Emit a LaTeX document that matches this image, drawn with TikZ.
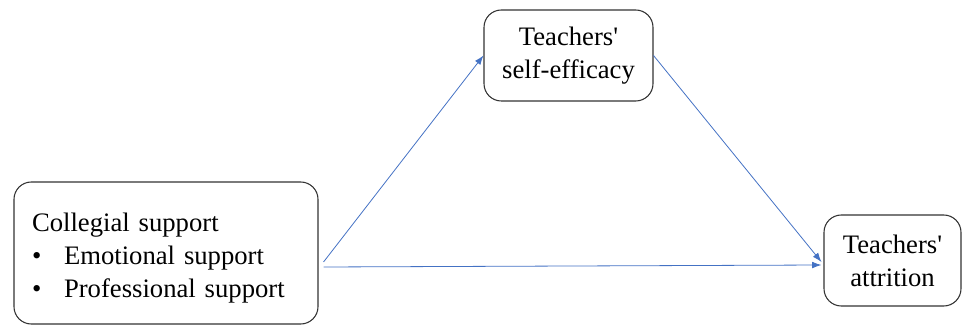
\documentclass[tikz,border=0pt]{standalone}
\usepackage{fontspec}
\setmainfont{Liberation Serif}
\usepackage{xcolor}
\usetikzlibrary{calc,arrows.meta}

\definecolor{linkblue}{RGB}{68,114,196}

\tikzset{
  factor/.style={draw=black!80, line width=0.8pt, rounded corners=13pt,
    align=center, font=\fontsize{20}{24.75}\selectfont, inner sep=0pt},
  link/.style={draw=linkblue, line width=0.6pt,
    -{Latex[length=7pt,width=5pt]}}
}

\begin{document}
\begin{tikzpicture}[x=0.75pt, y=0.75pt]

		% canvas
		\useasboundingbox (0,0) rectangle (964,325);
		
		% =========================================================
		% Boxes
		% =========================================================
		\node[factor, minimum width=228pt, minimum height=106.5pt,
		      text width=201pt, align=left] (coll) at (166,72)
		{\raisebox{-9pt}[0pt][0pt]{\begin{tabular}{@{}l@{\hspace{17pt}}l@{}}
		 \multicolumn{2}{@{}l@{}}{Collegial support}\\
		 \textbullet & Emotional support\\
		 \textbullet & Professional support
		 \end{tabular}}};
		
		\node[factor, minimum width=126.75pt, minimum height=68.25pt]
		(effic) at (568.5,269.5) {Teachers\textquotesingle\\self-efficacy};
		
		\node[factor, minimum width=102.75pt, minimum height=68.25pt]
		(attr) at (892.5,64.5) {Teachers\textquotesingle\\attrition};
		
		% =========================================================
		% Paths
		% =========================================================
		% a path via self-efficacy
		\draw[link] ($(coll.east)+(5,-9)$) -- (effic.west);
		\draw[link] (effic.east) -- ($(attr.west)+(-2,-1.5)$);
		% direct path
		\draw[link] ($(coll.east)+(5,-14)$) -- ($(attr.west)+(-2,-4.5)$);
		
	\end{tikzpicture}
\end{document}
